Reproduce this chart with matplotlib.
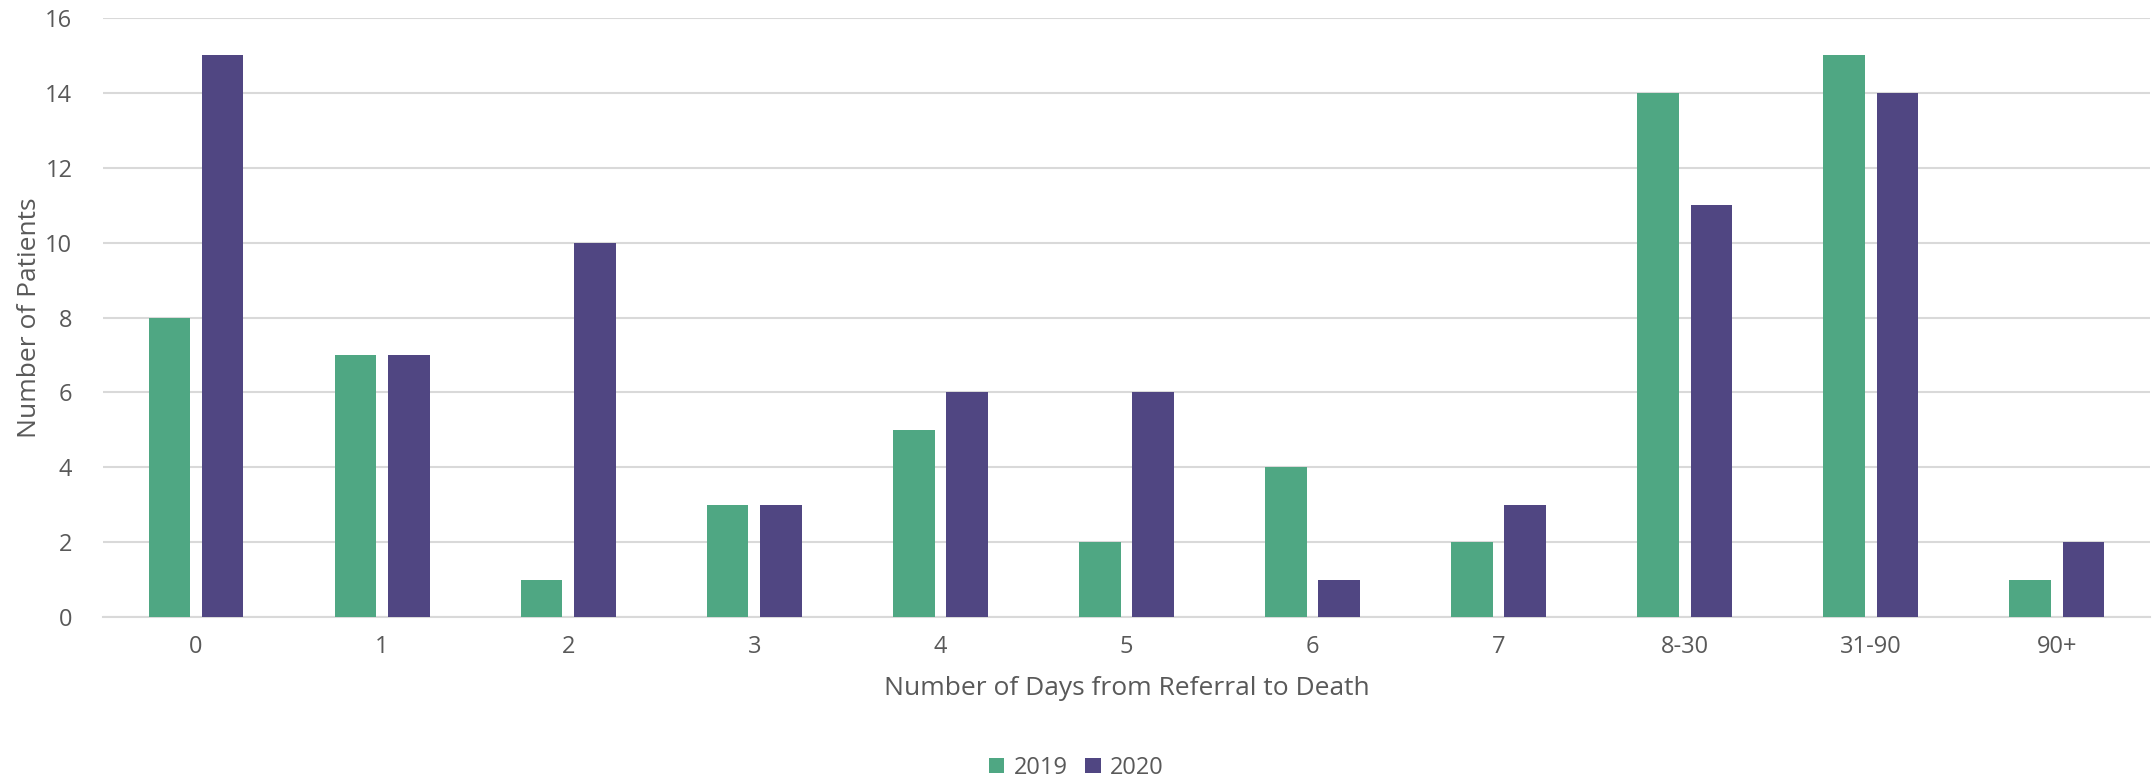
import matplotlib.pyplot as plt
import numpy as np

categories = ['0', '1', '2', '3', '4', '5', '6', '7', '8-30', '31-90', '90+']
patients_2019 = [8, 7, 1, 3, 5, 2, 4, 2, 14, 15, 1]
patients_2020 = [15, 7, 10, 3, 6, 6, 1, 3, 11, 14, 2]
yticks = [0, 2, 4, 6, 8, 10, 12, 14, 16]

green = '#4fa783'
purple = '#504682'
grey_text = '#595959'

plt.rcParams['font.family'] = ['Open Sans', 'DejaVu Sans']

fig = plt.figure(figsize=(21.53, 7.78), dpi=100)
ax = fig.add_axes([0.0478, 0.2069, 0.9508, 0.77])

x = np.arange(len(categories))
w = 0.224
off = 0.143
ax.bar(x - off, patients_2019, width=w, color=green, label='2019', zorder=3)
ax.bar(x + off, patients_2020, width=w, color=purple, label='2020', zorder=3)

ax.set_xlim(-0.5, len(categories) - 0.5)
ax.set_ylim(0, 16)
ax.set_yticks(yticks)
ax.set_xticks(x)
ax.set_xticklabels(categories)
ax.yaxis.grid(True, color='#d9d9d9', linewidth=1.5, zorder=0)
ax.tick_params(axis='both', length=0, labelsize=17, labelcolor=grey_text)
ax.tick_params(axis='x', pad=13)
ax.tick_params(axis='y', pad=22)
for s in ['top', 'right', 'left']:
    ax.spines[s].set_visible(False)
ax.spines['bottom'].set_color('#d9d9d9')
ax.spines['bottom'].set_linewidth(1.5)

ax.set_xlabel('Number of Days from Referral to Death', fontsize=19, color=grey_text, labelpad=12)
ax.set_ylabel('Number of Patients', fontsize=19, color=grey_text, labelpad=2)

fig.legend(loc='center', bbox_to_anchor=(0.5, 0.013), ncol=2, frameon=False,
           fontsize=17, handlelength=0.65, handleheight=0.65, handletextpad=0.4,
           columnspacing=0.75, labelcolor=grey_text)

fig.savefig('out.png', dpi=100)
